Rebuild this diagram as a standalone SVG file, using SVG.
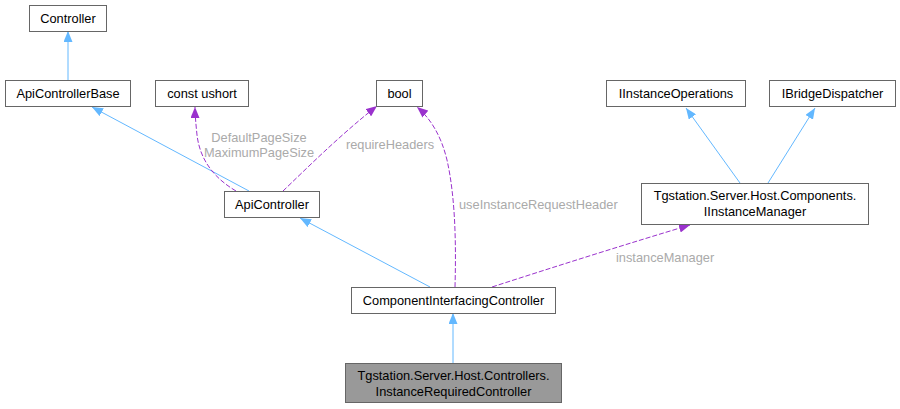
<svg xmlns="http://www.w3.org/2000/svg" width="900" height="409" viewBox="0 0 900 409">
<style>
.n rect{fill:#fff;stroke:#666;stroke-width:1}
.n.hl rect{fill:#999}
text{font-family:"Liberation Sans",Arial,sans-serif;font-size:12.8px;fill:#000;text-anchor:middle}
.lbl{fill:#aaa}
.inh{fill:none;stroke:#63b8ff;stroke-width:1}
.use{fill:none;stroke:#9a32cd;stroke-width:1;stroke-dasharray:5,2}
</style>
<defs>
<marker id="ab" viewBox="0 0 11 9" refX="11" refY="4.5" markerWidth="11" markerHeight="9" markerUnits="userSpaceOnUse" orient="auto"><path d="M0,0L11,4.5L0,9z" fill="#63b8ff"/></marker>
<marker id="ap" viewBox="0 0 11 9" refX="11" refY="4.5" markerWidth="11" markerHeight="9" markerUnits="userSpaceOnUse" orient="auto"><path d="M0,0L11,4.5L0,9z" fill="#9a32cd"/></marker>
</defs>
<g id="edges">
<path class="inh" d="M68,80L68,31" marker-end="url(#ab)"/>
<path class="inh" d="M249,191L92,107" marker-end="url(#ab)"/>
<path class="use" d="M236,191C214,178 200,160 197,135C196,125 195,115 195,107" marker-end="url(#ap)"/>
<path class="use" d="M283,191C305,170 340,135 377,106" marker-end="url(#ap)"/>
<path class="use" d="M455,287C456,250 456,200 447,160C441,135 430,118 417,107" marker-end="url(#ap)"/>
<path class="inh" d="M430,287L300,218" marker-end="url(#ab)"/>
<path class="use" d="M492,287C560,265 630,243 690,225" marker-end="url(#ap)"/>
<path class="inh" d="M740,183L686,108" marker-end="url(#ab)"/>
<path class="inh" d="M768,183L815,108" marker-end="url(#ab)"/>
<path class="inh" d="M453,363L453,313" marker-end="url(#ab)"/>
<text class="lbl" x="259" y="142">DefaultPageSize</text>
<text class="lbl" x="259" y="157">MaximumPageSize</text>
<text class="lbl" x="390" y="149">requireHeaders</text>
<text class="lbl" x="459" y="209" style="text-anchor:start">useInstanceRequestHeader</text>
<text class="lbl" x="616" y="262" style="text-anchor:start">instanceManager</text>
</g>
<g id="Controller" class="n"><rect x="29.5" y="5.5" width="77" height="26"/><text x="68" y="23">Controller</text></g>
<g id="ApiControllerBase" class="n"><rect x="5.5" y="80.5" width="125" height="26"/><text x="68" y="98">ApiControllerBase</text></g>
<g id="constushort" class="n"><rect x="155.5" y="80.5" width="93" height="26"/><text x="202" y="98">const ushort</text></g>
<g id="bool" class="n"><rect x="376.5" y="80.5" width="46" height="26"/><text x="399.5" y="98">bool</text></g>
<g id="IInstanceOperations" class="n"><rect x="606.5" y="80.5" width="139" height="26"/><text x="676" y="98">IInstanceOperations</text></g>
<g id="IBridgeDispatcher" class="n"><rect x="769.5" y="80.5" width="126" height="26"/><text x="832.5" y="98">IBridgeDispatcher</text></g>
<g id="ApiController" class="n"><rect x="224.5" y="191.5" width="95" height="26"/><text x="272" y="209">ApiController</text></g>
<g id="IInstanceManager" class="n"><rect x="641.5" y="183.5" width="227" height="41"/><text x="755" y="200">Tgstation.Server.Host.Components.</text><text x="755" y="216">IInstanceManager</text></g>
<g id="ComponentInterfacingController" class="n"><rect x="351.5" y="287.5" width="204" height="26"/><text x="453.5" y="305">ComponentInterfacingController</text></g>
<g id="InstanceRequiredController" class="n hl"><rect x="345.5" y="363.5" width="216" height="39"/><text x="453.5" y="380">Tgstation.Server.Host.Controllers.</text><text x="453.5" y="396">InstanceRequiredController</text></g>
</svg>
